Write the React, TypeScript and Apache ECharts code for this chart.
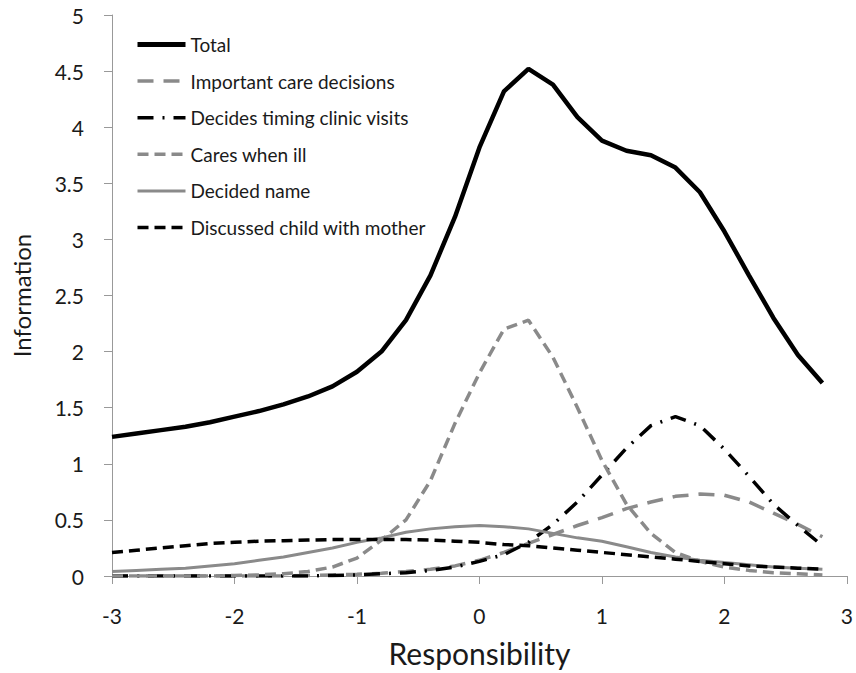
import React, { useEffect, useRef } from "react";
import * as echarts from "echarts";

const xs = [-3, -2.8, -2.6, -2.4, -2.2, -2, -1.8, -1.6, -1.4, -1.2, -1, -0.8, -0.6, -0.4, -0.2, 0, 0.2, 0.4, 0.6, 0.8, 1, 1.2, 1.4, 1.6, 1.8, 2, 2.2, 2.4, 2.6, 2.8];

const total = [1.24, 1.27, 1.30, 1.33, 1.37, 1.42, 1.47, 1.53, 1.60, 1.69, 1.82, 2.00, 2.28, 2.68, 3.20, 3.82, 4.32, 4.52, 4.38, 4.09, 3.88, 3.79, 3.75, 3.64, 3.42, 3.07, 2.68, 2.30, 1.97, 1.72];
const important = [0.00, 0.00, 0.00, 0.00, 0.00, 0.00, 0.00, 0.00, 0.005, 0.01, 0.015, 0.025, 0.04, 0.06, 0.09, 0.14, 0.21, 0.29, 0.37, 0.45, 0.52, 0.60, 0.66, 0.71, 0.73, 0.72, 0.66, 0.56, 0.46, 0.35];
const decides = [0.00, 0.00, 0.00, 0.00, 0.00, 0.00, 0.00, 0.00, 0.00, 0.005, 0.01, 0.02, 0.03, 0.05, 0.08, 0.13, 0.19, 0.30, 0.46, 0.66, 0.90, 1.14, 1.34, 1.42, 1.34, 1.13, 0.89, 0.64, 0.45, 0.27];
const cares = [0.00, 0.00, 0.00, 0.00, 0.00, 0.005, 0.01, 0.02, 0.04, 0.08, 0.16, 0.32, 0.50, 0.85, 1.36, 1.81, 2.20, 2.28, 1.95, 1.50, 1.03, 0.64, 0.38, 0.21, 0.13, 0.08, 0.05, 0.03, 0.02, 0.01];
const decidedName = [0.04, 0.05, 0.06, 0.07, 0.09, 0.11, 0.14, 0.17, 0.21, 0.25, 0.30, 0.34, 0.39, 0.42, 0.44, 0.45, 0.44, 0.42, 0.38, 0.34, 0.31, 0.26, 0.21, 0.17, 0.14, 0.12, 0.10, 0.08, 0.07, 0.06];
const mother = [0.21, 0.23, 0.25, 0.27, 0.29, 0.30, 0.31, 0.315, 0.32, 0.325, 0.325, 0.325, 0.325, 0.32, 0.31, 0.30, 0.28, 0.27, 0.25, 0.23, 0.21, 0.19, 0.17, 0.15, 0.13, 0.11, 0.09, 0.08, 0.07, 0.06];

const seriesNames = [
  "Total",
  "Important care decisions",
  "Decides timing clinic visits",
  "Cares when ill",
  "Decided name",
  "Discussed child with mother",
];

const FONT = "Lato";
const GRAY = "#8a8a8a";

function pairs(ys: number[]) {
  return xs.map((x, i) => [x, ys[i]]);
}

export default function App() {
  const ref = useRef<HTMLDivElement>(null);
  useEffect(() => {
    if (!ref.current) return;
    const chart = echarts.init(ref.current, undefined, { renderer: "svg" });
    const styles: any[] = [
      { color: "#000000", width: 4.5, type: "solid" },
      { color: GRAY, width: 3.5, type: [16, 10] },
      { color: "#000000", width: 3.5, type: [16, 9, 2, 9] },
      { color: GRAY, width: 3.5, type: [11, 6] },
      { color: GRAY, width: 3, type: "solid" },
      { color: "#000000", width: 3.5, type: [11, 6] },
    ];
    const datasets = [total, important, decides, cares, decidedName, mother];
    chart.setOption({
      animation: false,
      backgroundColor: "#ffffff",
      textStyle: { fontFamily: FONT },
      grid: { left: 112, right: 4, top: 15, bottom: 94, containLabel: false },
      legend: {
        orient: "vertical",
        left: 135,
        top: 35,
        padding: 0,
        itemWidth: 48,
        itemHeight: 18,
        itemGap: 17.6,
        itemStyle: { opacity: 0 },
        textStyle: { fontFamily: FONT, fontSize: 19, color: "#1a1a1a", lineHeight: 18 },
        data: seriesNames.map((name, i) => ({
          name,
          lineStyle: { width: styles[i].width + (i === 0 ? 0.5 : 0), type: styles[i].type, color: styles[i].color },
        })),
      },
      xAxis: {
        type: "value",
        min: -3,
        max: 3,
        interval: 1,
        name: "Responsibility",
        nameLocation: "middle",
        nameGap: 62,
        nameTextStyle: { fontFamily: FONT, fontSize: 30, color: "#1a1a1a" },
        axisLine: { show: true, onZero: false, lineStyle: { color: "#999999", width: 1 } },
        axisTick: { show: true, length: 8, lineStyle: { color: "#999999" } },
        axisLabel: { fontFamily: FONT, fontSize: 21, color: "#1a1a1a", margin: 29 },
        splitLine: { show: false },
      },
      yAxis: {
        type: "value",
        min: 0,
        max: 5,
        interval: 0.5,
        name: "Information",
        nameLocation: "middle",
        nameGap: 79,
        nameRotate: 90,
        nameTextStyle: { fontFamily: FONT, fontSize: 24, color: "#1a1a1a" },
        axisLine: { show: true, onZero: false, lineStyle: { color: "#999999", width: 1 } },
        axisTick: { show: true, length: 8, lineStyle: { color: "#999999" } },
        axisLabel: { fontFamily: FONT, fontSize: 21, color: "#1a1a1a", margin: 28 },
        splitLine: { show: false },
      },
      series: seriesNames.map((name, i) => ({
        name,
        type: "line",
        data: pairs(datasets[i]),
        symbol: "none",
        showSymbol: false,
        smooth: false,
        z: i === 0 ? 10 : 2,
        lineStyle: { ...styles[i], cap: "butt" },
        itemStyle: { color: styles[i].color },
        emphasis: { disabled: true },
      })),
    });
    return () => chart.dispose();
  }, []);
  return (
    <div
      ref={ref}
      style={{ position: "fixed", left: 0, top: 0, width: 856, height: 673, background: "#fff" }}
    />
  );
}
